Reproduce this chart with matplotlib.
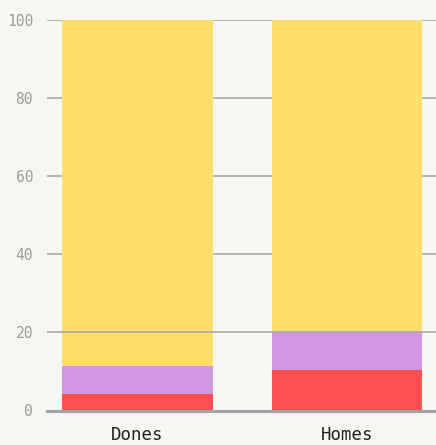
import matplotlib
matplotlib.use("Agg")
import matplotlib.pyplot as plt
import numpy as np

categories = ["Dones", "Homes"]
red_vals = [4.3, 10.4]
purple_vals = [7.2, 9.7]
yellow_vals = [88.5, 79.9]
yticks = [0, 20, 40, 60, 80, 100]

bg = "#F6F6F2"
fig = plt.figure(figsize=(4.36, 4.45), dpi=100, facecolor=bg)
ax = fig.add_axes([47/436, (445-410.5)/445, 1 - 47/436, (410.5-20)/445])
ax.set_facecolor(bg)

x = np.arange(len(categories))
w = 0.72
r = np.array(red_vals)
p = np.array(purple_vals)
yv = np.array(yellow_vals)
ax.bar(x, r, width=w, color="#FF4F4F", zorder=2)
ax.bar(x, p, bottom=r, width=w, color="#D197E3", zorder=2)
ax.bar(x, yv, bottom=r + p, width=w, color="#FFDE6B", zorder=2)

ax.set_xlim((47-137.5)/209.5, (436-137.5)/209.5)
ax.set_ylim(0, 100)
ax.set_yticks(yticks)
ax.set_yticklabels([str(t) for t in yticks], family="DejaVu Sans Mono", fontsize=10.5, color="#9a9a9a")
ax.set_xticks(x)
ax.set_xticklabels(categories, family="DejaVu Sans Mono", fontsize=12.5, color="#222222")
ax.tick_params(axis="y", length=0, pad=10)
ax.tick_params(axis="x", length=0, pad=11.5)
for t in yticks[1:]:
    ax.axhline(t, color="#a8a8a8", lw=1.2, zorder=3 if t == 20 else 1)
ax.axhline(0, color="#a3a3a3", lw=2.2, zorder=3, clip_on=False)
for s in ax.spines.values():
    s.set_visible(False)

fig.savefig("out.png", dpi=100, facecolor=bg)
